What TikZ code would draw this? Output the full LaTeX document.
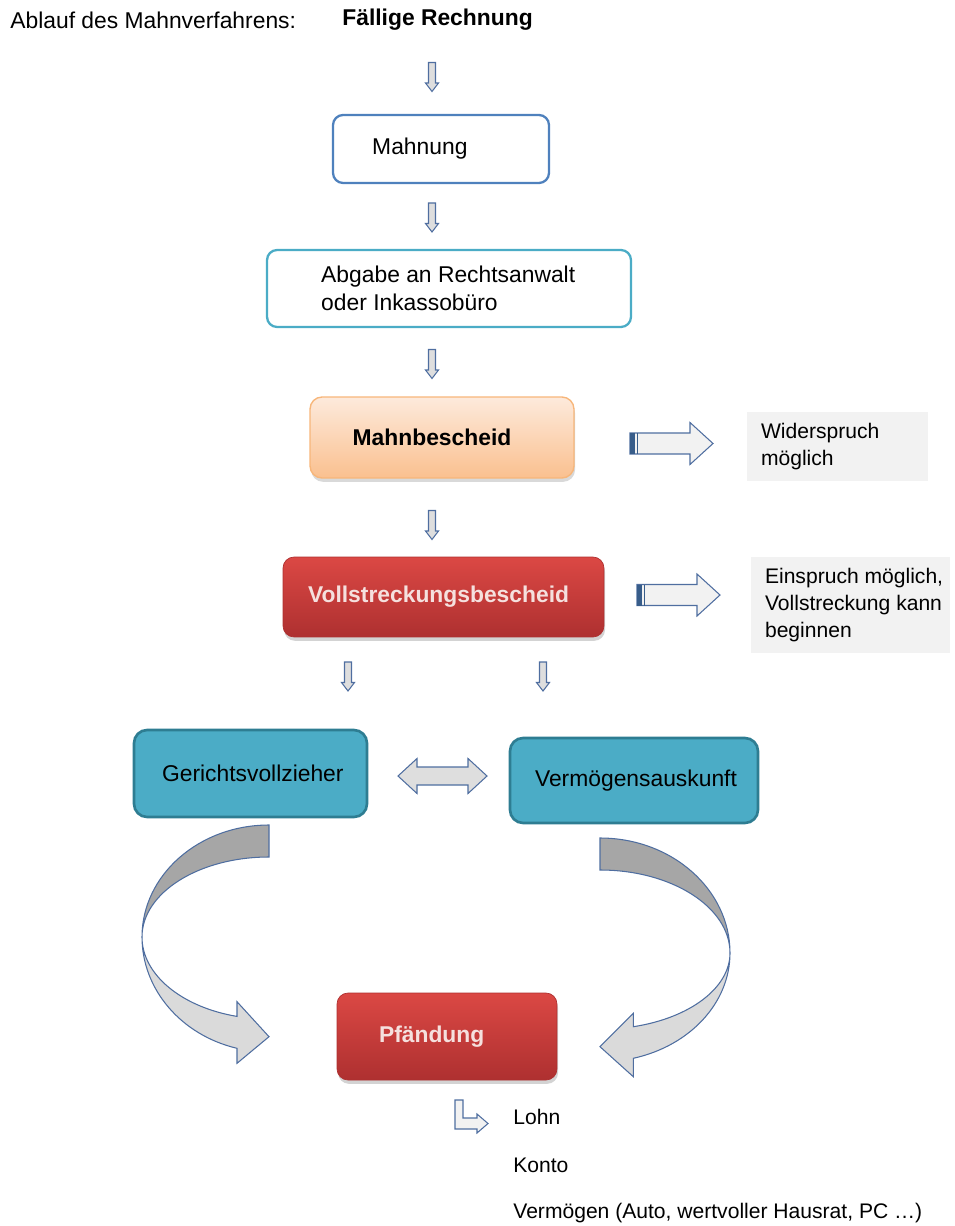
\documentclass[tikz,border=0pt]{standalone}
\usepackage{fontspec}
\setmainfont{Liberation Sans}
\usetikzlibrary{positioning,shadows}

\definecolor{arrowblue}{RGB}{79,110,160}
\definecolor{arrowfill}{RGB}{222,222,222}
\definecolor{mahnblue}{RGB}{79,129,189}
\definecolor{lightteal}{RGB}{75,172,198}
\definecolor{darkteal}{RGB}{46,125,146}
\definecolor{orangetop}{RGB}{253,234,220}
\definecolor{orangebot}{RGB}{250,192,143}
\definecolor{orangeline}{RGB}{247,182,122}
\definecolor{redtop}{RGB}{219,72,68}
\definecolor{redbot}{RGB}{174,48,48}
\definecolor{redtext}{RGB}{245,224,222}
\definecolor{notegray}{RGB}{242,242,242}
\definecolor{ribbondark}{RGB}{166,166,166}
\definecolor{ribbonlight}{RGB}{218,218,218}
\definecolor{bardark}{RGB}{56,93,138}

\tikzset{
  txt/.style={inner sep=0pt, align=left, font=\fontsize{13}{15.8}\selectfont},
  boldtxt/.style={txt, font=\fontsize{13}{15.8}\selectfont\bfseries},
  notetxt/.style={txt, font=\fontsize{12}{15.4}\selectfont},
  outlinebox/.style={rounded corners=0.2cm, line width=1.3pt, fill=white},
  orangebox/.style={rounded corners=0.24cm, top color=orangetop, bottom color=orangebot,
    draw=orangeline, line width=0.8pt, drop shadow={shadow xshift=0.6pt, shadow yshift=-2.2pt, opacity=0.3}},
  redbox/.style={rounded corners=0.22cm, top color=redtop, bottom color=redbot,
    draw=redbot, line width=0.4pt, drop shadow={shadow xshift=0.6pt, shadow yshift=-2.2pt, opacity=0.35}},
  tealbox/.style={rounded corners=0.26cm, fill=lightteal, draw=darkteal, line width=1.5pt},
  notebox/.style={fill=notegray, inner sep=0pt},
  arrowline/.style={draw=arrowblue, line width=0.6pt},
  ribbon/.style={draw=arrowblue, line width=0.6pt},
  pics/downarr/.style={code={
    \draw[arrowline, fill=arrowfill] (-3.5,-14.5) -- (3.5,-14.5) -- (3.5,6) -- (6.5,6)
      -- (0,14.5) -- (-6.5,6) -- (-3.5,6) -- cycle;
  }},
  pics/rightarr/.style={code={
    \draw[arrowline, fill=notegray] (-41.5,-10.5) -- (18.5,-10.5) -- (18.5,-21) -- (41.5,0)
      -- (18.5,21) -- (18.5,10.5) -- (-41.5,10.5) -- cycle;
    \fill[bardark] (-41.5,-10.5) rectangle (-36.5,10.5);
    \draw[bardark, line width=0.5pt] (-34.5,-10.5) -- (-34.5,10.5);
  }},
  pics/bothwayarr/.style={code={
    \draw[arrowline, fill=arrowfill] (-44.5,0) -- (-25.5,-17.5) -- (-25.5,-9) -- (25.5,-9)
      -- (25.5,-17.5) -- (44.5,0) -- (25.5,17.5) -- (25.5,9) -- (-25.5,9) -- (-25.5,17.5) -- cycle;
  }}
}

\begin{document}
\begin{tikzpicture}[x=0.02cm, y=-0.02cm]
  \useasboundingbox (0,0) rectangle (955,1226);

  % heading
  \node[txt, anchor=west] (ablauf) at (10,20) {Ablauf des Mahnverfahrens:};
  \node[boldtxt, anchor=west] (faellig) at (342,20) {Fällige Rechnung};

  % chain of steps
  \node[outlinebox, draw=mahnblue, minimum width=4.32cm, minimum height=1.36cm] (mahnung) at (441,149) {};
  \node[txt, right=0.8cm of mahnung.west] (mahnungtxt) {Mahnung};

  \node[outlinebox, draw=lightteal, minimum width=7.28cm, minimum height=1.54cm] (abgabe) at (449,288.5) {};
  \node[txt, right=1.1cm of abgabe.west] (abgabetxt) {Abgabe an Rechtsanwalt\\oder Inkassobüro};

  \node[orangebox, minimum width=5.28cm, minimum height=1.62cm] (mahnbescheid) at (442,437.5) {};
  \node[boldtxt, right=0.86cm of mahnbescheid.west] (mahnbescheidtxt) {Mahnbescheid};

  \node[notebox, minimum width=3.62cm, minimum height=1.38cm] (widerspruch) at (837.5,446.5) {};
  \node[notetxt, right=0.28cm of widerspruch.west] (widerspruchtxt) {Widerspruch\\möglich};

  \node[redbox, minimum width=6.42cm, minimum height=1.6cm] (vollstreckung) at (443.5,597) {};
  \node[boldtxt, text=redtext, right=0.5cm of vollstreckung.west] (vollstreckungtxt) {Vollstreckungsbescheid};

  \node[notebox, minimum width=3.98cm, minimum height=1.92cm] (einspruch) at (850.5,605) {};
  \node[notetxt, right=0.28cm of einspruch.west] (einspruchtxt) {Einspruch möglich,\\Vollstreckung kann\\beginnen};

  \node[tealbox, minimum width=4.66cm, minimum height=1.74cm] (gerichts) at (250.5,773.5) {};
  \node[txt, right=0.58cm of gerichts.west] (gerichtstxt) {Gerichtsvollzieher};

  \node[tealbox, minimum width=4.96cm, minimum height=1.7cm] (vermoegen) at (634,780.5) {};
  \node[txt, right=0.52cm of vermoegen.west] (vermoegentxt) {Vermögensauskunft};

  \node[redbox, minimum width=4.4cm, minimum height=1.74cm] (pfaendung) at (447,1036.5) {};
  \node[boldtxt, text=redtext, right=0.84cm of pfaendung.west] (pfaendungtxt) {Pfändung};

  % small arrows
  \foreach \ax/\ay in {432/77, 432/217.5, 432/364, 432/525, 348/676.5, 543/676.5}
    \pic at (\ax,\ay) {downarr};
  \pic at (671.5,443.5) {rightarr};
  \pic at (678.5,595) {rightarr};
  \pic at (442.5,776) {bothwayarr};

  % curved arrows to Pfaendung
  \draw[ribbon, fill=ribbondark] (269,825) .. controls (198.9,825) and (142,875.1) .. (142,937)
    .. controls (142,892.8) and (198.9,857) .. (269,857) -- cycle;
  \draw[ribbon, fill=ribbonlight] (142,937) .. controls (142,989.3) and (181.1,1035.1) .. (237,1048.3)
    -- (237,1063.3) -- (269,1036.7) -- (237,1001.7) -- (237,1016.4)
    .. controls (181.1,1007) and (142,974.3) .. (142,937) -- cycle;
  \draw[ribbon, fill=ribbondark] (600,838) .. controls (671.8,838) and (730,889.5) .. (730,953)
    .. controls (730,907.2) and (671.8,870) .. (600,870) -- cycle;
  \draw[ribbon, fill=ribbonlight] (730,953) .. controls (730,1002.5) and (690.4,1045.7) .. (633.3,1058.3)
    -- (633.3,1076.7) -- (600,1046.7) -- (633.3,1013.3) -- (633.3,1026.7)
    .. controls (690.4,1017.9) and (730,987.5) .. (730,953) -- cycle;

  % what can be seized
  \draw[arrowline, fill=notegray] (455,1100) -- (463,1100) -- (463,1118) -- (477,1118) -- (477,1114)
    -- (488,1123.5) -- (477,1133) -- (477,1129) -- (455,1129) -- cycle;
  \node[notetxt, anchor=west] (lohn) at (513,1117) {Lohn};
  \node[notetxt, anchor=west] (konto) at (513,1165) {Konto};
  \node[notetxt, anchor=west] (sachen) at (513,1213) {Vermögen (Auto, wertvoller Hausrat, PC …)};
\end{tikzpicture}
\end{document}
